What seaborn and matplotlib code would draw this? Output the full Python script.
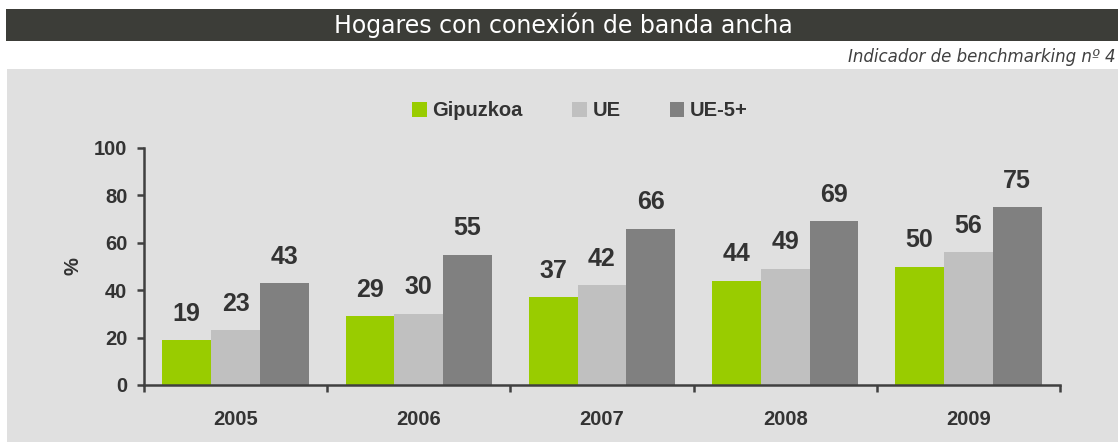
import pandas as pd
import matplotlib.pyplot as plt
import seaborn as sns
from matplotlib.patches import Rectangle, Patch
from matplotlib.ticker import FixedLocator

# datos
years = ['2005', '2006', '2007', '2008', '2009']
series = ['Gipuzkoa', 'UE', 'UE-5+']
gipuzkoa = [19, 29, 37, 44, 50]
ue = [23, 30, 42, 49, 56]
ue5 = [43, 55, 66, 69, 75]
colors = ['#99cc00', '#c0c0c0', '#808080']

title = 'Hogares con conexión de banda ancha'
subtitle = 'Indicador de benchmarking nº 4'

df = pd.DataFrame({
    'year': years * 3,
    'serie': [series[0]] * 5 + [series[1]] * 5 + [series[2]] * 5,
    'valor': gipuzkoa + ue + ue5,
})

sns.set_theme(style='white')
plt.rcParams['font.family'] = ['Liberation Sans', 'DejaVu Sans']
txt = '#333333'
axcol = '#404040'

W, H = 1118, 443
fig = plt.figure(figsize=(W / 100, H / 100), dpi=100)
fig.patch.set_facecolor('white')

# barra del titulo y panel gris
fig.add_artist(Rectangle((6 / W, 1 - 41 / H), 1 - 6 / W, 32 / H, transform=fig.transFigure,
                         facecolor='#3c3d38', edgecolor='none', zorder=0))
fig.add_artist(Rectangle((7 / W, 1 / H), 1 - 7 / W, (H - 70) / H, transform=fig.transFigure,
                         facecolor='#e0e0e0', edgecolor='none', zorder=0))
fig.text(563 / W, 1 - 25 / H, title, color='white', fontsize=17, ha='center', va='center',
         family='DejaVu Sans')
fig.text(1116 / W, 1 - 57 / H, subtitle, color='#404040', fontsize=12, ha='right', va='center',
         family='DejaVu Sans', style='italic')

ax = fig.add_axes([144 / W, 1 - 385 / H, (1060 - 144) / W, (385 - 148) / H])
ax.set_facecolor('none')

sns.barplot(data=df, x='year', y='valor', hue='serie', hue_order=series, order=years,
            palette=colors, saturation=1, width=0.8, ax=ax, legend=False, zorder=2,
            linewidth=0, edgecolor='none')

for cont in ax.containers:
    for bar in cont:
        h = bar.get_height()
        ax.annotate(f'{h:.0f}', (bar.get_x() + bar.get_width() / 2, h),
                    xytext=(0, 14), textcoords='offset points', ha='center', va='baseline',
                    fontsize=18, fontweight='bold', color=txt)

ax.set_ylim(0, 100)
ax.set_xlim(-0.5, 4.5)
ax.set_yticks([0, 20, 40, 60, 80, 100])
ax.xaxis.set_minor_locator(FixedLocator([i - 0.5 for i in range(6)]))
ax.tick_params(axis='x', which='major', length=0, pad=18, labelsize=14.5, labelcolor=txt)
ax.tick_params(axis='x', which='minor', length=5, width=1.8, color=axcol, direction='out',
               bottom=True)
ax.tick_params(axis='y', length=5, width=1.8, color=axcol, direction='out', pad=7,
               labelsize=14.5, labelcolor=txt, left=True)
for lab in ax.get_xticklabels() + ax.get_yticklabels():
    lab.set_fontweight('bold')
ax.set_xlabel('')
ax.set_ylabel('%', fontsize=14.5, fontweight='bold', color=txt, labelpad=8)

for s in ['top', 'right']:
    ax.spines[s].set_visible(False)
for s in ['left', 'bottom']:
    ax.spines[s].set_color(axcol)
    ax.spines[s].set_linewidth(1.8)

handles = [Patch(facecolor=c, edgecolor='none', label=s) for c, s in zip(colors, series)]
leg = fig.legend(handles=handles, loc='center', bbox_to_anchor=(580 / W, 1 - 111 / H), ncol=3,
                 frameon=False, fontsize=14.5, handlelength=0.72, handleheight=0.72,
                 handletextpad=0.28, columnspacing=2.45)
for t in leg.get_texts():
    t.set_fontweight('bold')
    t.set_color(txt)

fig.savefig('out.png', dpi=100)
